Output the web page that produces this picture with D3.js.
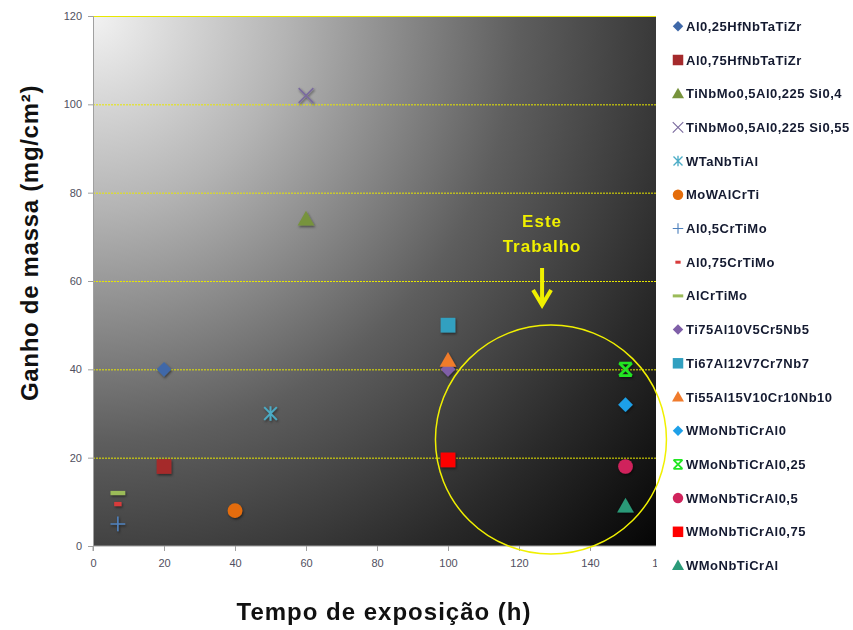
<!DOCTYPE html>
<html><head><meta charset="utf-8">
<script src="https://cdn.jsdelivr.net/npm/d3@7"></script>
<style>body{margin:0;background:#fff}svg{display:block}</style>
</head><body><svg id="c" width="853" height="630"></svg>
<script>
const seriesNames = ["Al0,25HfNbTaTiZr","Al0,75HfNbTaTiZr","TiNbMo0,5Al0,225 Si0,4","TiNbMo0,5Al0,225 Si0,55","WTaNbTiAl","MoWAlCrTi","Al0,5CrTiMo","Al0,75CrTiMo","AlCrTiMo","Ti75Al10V5Cr5Nb5","Ti67Al12V7Cr7Nb7","Ti55Al15V10Cr10Nb10","WMoNbTiCrAl0","WMoNbTiCrAl0,25","WMoNbTiCrAl0,5","WMoNbTiCrAl0,75","WMoNbTiCrAl"];
const timeValues = [20,20,60,60,50,40,7,7,7,100,100,100,150,150,150,100,150];
const massGain   = [40,18,74,102,30,8,5,9.5,12,40,50,42,32,40,18,19.5,9];
const markerShapes = ["diamond","square","triangle","x","asterisk","circle","plus","smalldash","dash","diamond","square","triangle","diamond","xstar","circle","square","triangle"];
const markerColors = ["#3f68a8","#a52a2c","#77933c","#7a6a9e","#4bacc6","#e46c0a","#4f81bd","#d83b3b","#9bbb59","#7f5fa8","#31a0c0","#f07b2c","#1ea0e8","#22e622","#d0245c","#ff0000","#2a9a78"];
const xTicks = [0,20,40,60,80,100,120,140,160];
const yTicks = [0,20,40,60,80,100,120];
const xTitle = "Tempo de exposição (h)";
const yTitle = "Ganho de massa (mg/cm²)";
const annotation = ["Este","Trabalho"];
const circleCenter = [129, 24.1];

const svg = d3.select("#c");
const L = 93, R = 656, T = 16, B = 546;
const x = d3.scaleLinear().domain([0,160]).range([L, 661]);
const y = d3.scaleLinear().domain([0,120]).range([B, T]);

const defs = svg.append("defs");
const g = defs.append("radialGradient").attr("id","bg").attr("gradientUnits","userSpaceOnUse")
  .attr("cx",L).attr("cy",T).attr("r",Math.hypot(R-L,B-T)).attr("fx",L).attr("fy",T);
[[0,"#f2f2f2"],[0.25,"#b4b4b4"],[0.55,"#5e5e5e"],[0.8,"#2a2a2a"],[1,"#050505"]].forEach(s=>g.append("stop").attr("offset",s[0]).attr("stop-color",s[1]));
const sh = defs.append("filter").attr("id","sh").attr("x","-50%").attr("y","-50%").attr("width","200%").attr("height","200%");
sh.append("feDropShadow").attr("dx",1).attr("dy",1.5).attr("stdDeviation",1).attr("flood-color","#000").attr("flood-opacity",0.5);

svg.append("rect").attr("x",L).attr("y",T).attr("width",R-L).attr("height",B-T).attr("fill","url(#bg)");

// gridlines
svg.append("g").selectAll("line").data(yTicks.filter(d=>d>0)).join("line")
  .attr("x1",L).attr("x2",R).attr("y1",d=>y(d)+0.5).attr("y2",d=>y(d)+0.5)
  .attr("stroke","#e8e800").attr("stroke-width",1).attr("stroke-dasharray",d=>d===120?null:"2,1");

// axes
const ax = svg.append("g").attr("transform",`translate(0,${B})`).call(d3.axisBottom(x).tickValues(xTicks).tickSize(5).tickPadding(8));
const ay = svg.append("g").attr("transform",`translate(${L},0)`).call(d3.axisLeft(y).tickValues(yTicks).tickSize(5).tickPadding(6));
[ax,ay].forEach(a=>{
  a.select(".domain").attr("stroke","#a0a0a0");
  a.selectAll(".tick line").attr("stroke","#a0a0a0");
  a.selectAll("text").attr("fill","#505060").attr("font-family","Liberation Sans, Arial").attr("font-size",11);
});
ax.select(".domain").attr("d",`M${L},5V0H${R}`);

// symbol drawing
function drawMarker(sel, shape, color, s) {
  const k = s/10;
  const line = (pts,w)=>sel.append("path").attr("d",pts).attr("stroke",color).attr("stroke-width",w).attr("fill","none");
  switch(shape){
    case "diamond": sel.append("path").attr("d",`M0,${-7*k}L${7*k},0L0,${7*k}L${-7*k},0Z`).attr("fill",color); break;
    case "square": sel.append("rect").attr("x",-7*k).attr("y",-7*k).attr("width",14*k).attr("height",14*k).attr("fill",color); break;
    case "triangle": sel.append("path").attr("d",`M0,${-8*k}L${8*k},${6*k}L${-8*k},${6*k}Z`).attr("fill",color); break;
    case "x": line(`M${-7*k},${-7*k}L${7*k},${7*k}M${7*k},${-7*k}L${-7*k},${7*k}`,1.5*k); break;
    case "asterisk": line(`M${-6*k},${-6*k}L${6*k},${6*k}M${6*k},${-6*k}L${-6*k},${6*k}M0,${-7*k}L0,${7*k}`,1.8*k); break;
    case "circle": sel.append("circle").attr("r",7*k).attr("fill",color); break;
    case "plus": line(`M${-7*k},0L${7*k},0M0,${-7*k}L0,${7*k}`,1.5*k); break;
    case "smalldash": sel.append("rect").attr("x",-3.5*k).attr("y",-2*k).attr("width",7*k).attr("height",4*k).attr("fill",color); break;
    case "dash": sel.append("rect").attr("x",-7*k).attr("y",-2*k).attr("width",14*k).attr("height",4*k).attr("fill",color); break;
    case "xstar": line(`M${-6*k},${-6*k}L${6*k},${6*k}M${6*k},${-6*k}L${-6*k},${6*k}M${-6*k},${-6*k}L${6*k},${-6*k}M${-6*k},${6*k}L${6*k},${6*k}`,2.5*k); break;
  }
}

const pts = svg.append("g").attr("filter","url(#sh)");
seriesNames.forEach((n,i)=>{
  const gp = pts.append("g").attr("transform",`translate(${x(timeValues[i])},${y(massGain[i])})`);
  drawMarker(gp, markerShapes[i], markerColors[i], 10.5);
});

// legend backdrop (leaves the first digit of the last x label peeking, as in the original)
svg.append("rect").attr("x",R+1).attr("y",0).attr("width",853-R).attr("height",630).attr("fill","#fff");

// annotation
const ac = x(126.5);
svg.append("ellipse").attr("cx",x(circleCenter[0])).attr("cy",y(circleCenter[1])).attr("rx",115.5).attr("ry",114.5)
  .attr("fill","none").attr("stroke","#f0f000").attr("stroke-width",1.5);
svg.append("g").selectAll("text").data(annotation).join("text")
  .attr("x",ac).attr("y",(d,i)=>227+i*25).attr("text-anchor","middle").attr("letter-spacing",1)
  .attr("font-family","Liberation Sans, Arial").attr("font-weight","bold").attr("font-size",17).attr("fill","#f0f000").text(d=>d);
svg.append("path").attr("d",`M${ac},268V303M${ac-9},290L${ac},305L${ac+9},290`)
  .attr("stroke","#f0f000").attr("stroke-width",4).attr("fill","none");

const lg = svg.append("g");
seriesNames.forEach((n,i)=>{
  const yy = 26.3 + i*33.7;
  const gp = lg.append("g").attr("transform",`translate(678,${yy})`);
  drawMarker(gp, markerShapes[i], markerColors[i], 7.5);
  lg.append("text").attr("x",686).attr("y",yy+4.5).attr("font-family","Liberation Sans, Arial").attr("font-weight","bold")
    .attr("font-size",13).attr("letter-spacing",0.5).attr("fill","#141a30").text(n);
});

// titles
svg.append("text").attr("x",384).attr("y",620).attr("text-anchor","middle").attr("font-family","Liberation Sans, Arial")
  .attr("letter-spacing",1).attr("font-weight","bold").attr("font-size",24).attr("fill","#111").text(xTitle);
svg.append("text").attr("transform","translate(38,243) rotate(-90)").attr("text-anchor","middle").attr("font-family","Liberation Sans, Arial")
  .attr("letter-spacing",0.7).attr("font-weight","bold").attr("font-size",24).attr("fill","#111").text(yTitle);
</script></body></html>
